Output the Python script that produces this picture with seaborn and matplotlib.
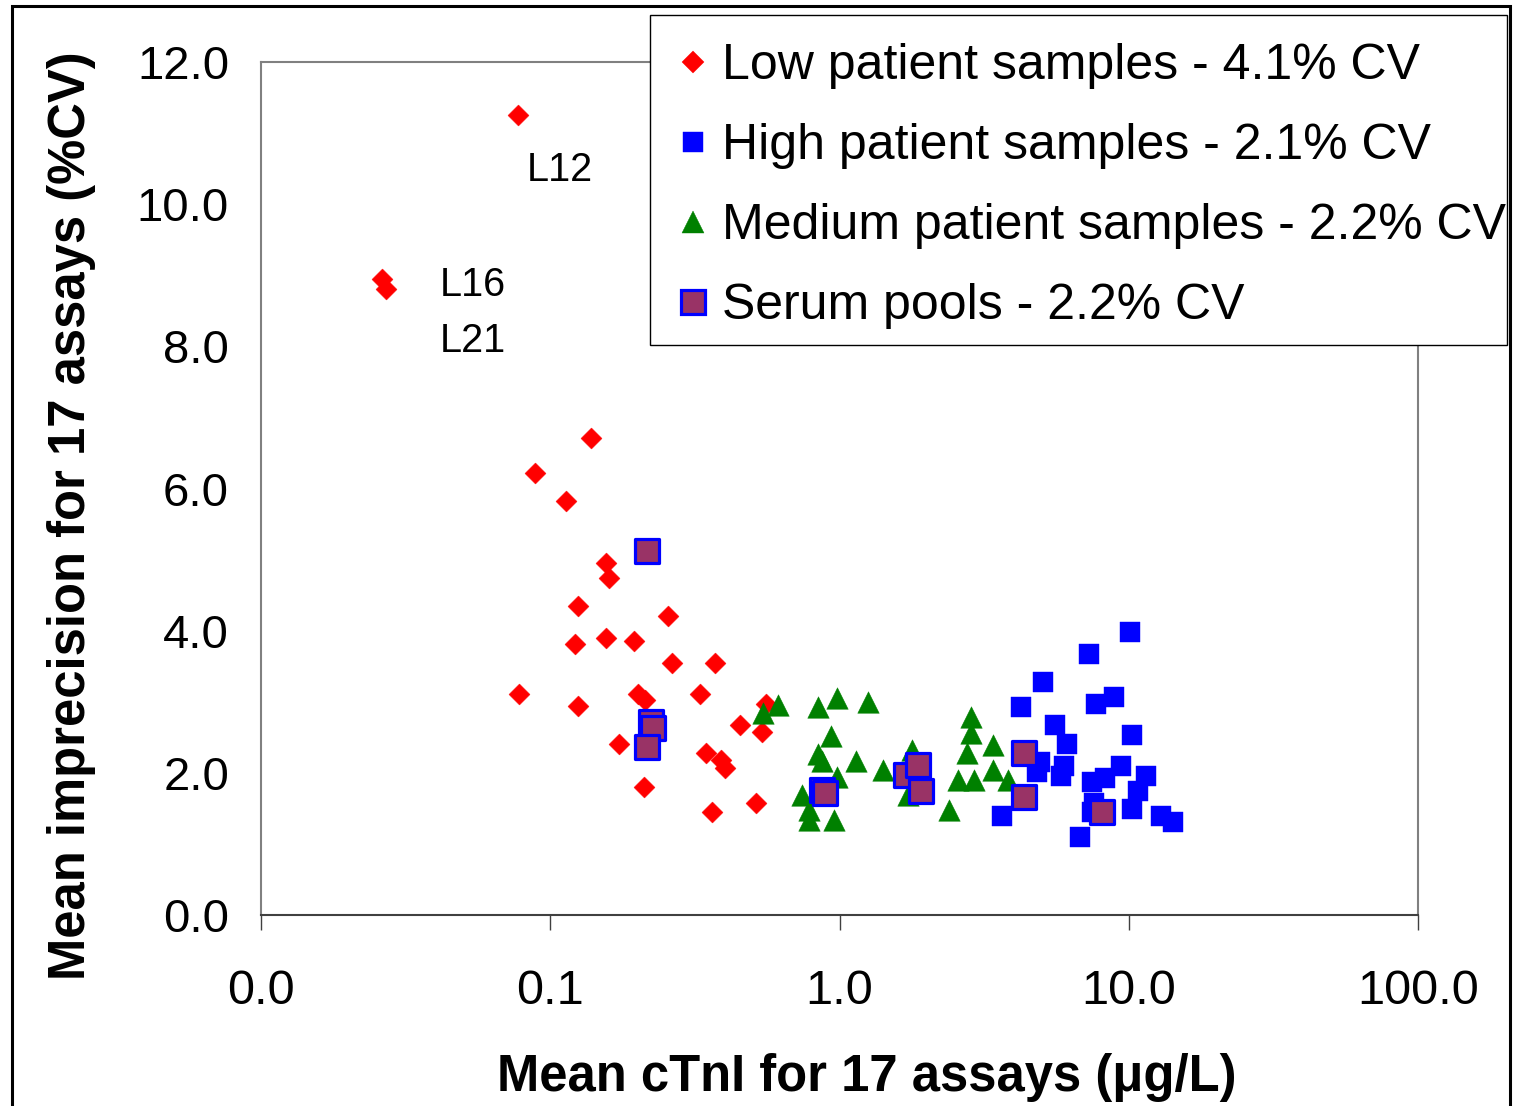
import matplotlib
matplotlib.use("Agg")
import matplotlib.pyplot as plt
import numpy as np
import pandas as pd
import seaborn as sns
from matplotlib.lines import Line2D
from matplotlib.patches import Rectangle
from matplotlib.ticker import NullLocator, FixedLocator, FixedFormatter

# ---------------- data ----------------
low_x = [0.0773, 0.0262, 0.0270, 0.138, 0.0886, 0.1134, 0.156, 0.160, 0.125, 0.255,
         0.122, 0.156, 0.195, 0.264, 0.371, 0.078, 0.201, 0.213, 0.330, 0.125,
         0.557, 0.453, 0.540, 0.173, 0.346, 0.389, 0.402, 0.211, 0.362, 0.514]
low_y = [11.25, 8.95, 8.81, 6.71, 6.22, 5.82, 4.95, 4.74, 4.35, 4.21,
         3.81, 3.90, 3.85, 3.55, 3.55, 3.11, 3.11, 3.02, 3.11, 2.94,
         2.97, 2.67, 2.57, 2.41, 2.28, 2.18, 2.07, 1.80, 1.45, 1.58]

high_x = [10.1, 7.29, 5.05, 4.24, 7.71, 8.89, 5.56, 6.12, 10.3, 4.93,
          4.82, 5.97, 5.83, 9.40, 11.5, 7.46, 8.28, 10.8, 10.3, 3.65,
          7.46, 12.9, 14.2, 6.78, 7.56]
high_y = [3.98, 3.67, 3.28, 2.93, 2.97, 3.07, 2.67, 2.41, 2.53, 2.15,
          2.01, 2.10, 1.96, 2.10, 1.96, 1.87, 1.93, 1.74, 1.49, 1.39,
          1.45, 1.39, 1.31, 1.10, 1.58]

med_x = [0.613, 0.544, 0.843, 0.980, 1.254, 0.935, 0.843, 0.870, 1.14, 0.98,
         0.742, 0.785, 0.785, 0.957, 1.41, 1.78, 1.73, 2.85, 2.85, 3.40,
         2.76, 2.57, 2.92, 3.40, 3.82, 2.39]
med_y = [2.95, 2.84, 2.93, 3.05, 3.00, 2.52, 2.27, 2.17, 2.17, 1.94,
         1.69, 1.48, 1.34, 1.34, 2.04, 2.32, 1.69, 2.79, 2.56, 2.39,
         2.28, 1.90, 1.90, 2.04, 1.90, 1.48]

pool_x = [0.216, 0.223, 0.227, 0.216, 0.870, 0.89, 1.70, 1.87, 1.91, 4.34, 4.34, 8.08]
pool_y = [5.12, 2.72, 2.63, 2.36, 1.76, 1.72, 1.97, 2.11, 1.74, 2.28, 1.66, 1.45]

series_names = ["Low patient samples - 4.1% CV",
                "High patient samples - 2.1% CV",
                "Medium patient samples - 2.2% CV",
                "Serum pools - 2.2% CV"]

x_ticks = [0.01, 0.1, 1, 10, 100]
x_tick_labels = ["0.0", "0.1", "1.0", "10.0", "100.0"]
y_ticks = [0, 2, 4, 6, 8, 10, 12]
y_tick_labels = ["0.0", "2.0", "4.0", "6.0", "8.0", "10.0", "12.0"]

point_labels = ["L12", "L16", "L21"]
point_label_x = [0.083, 0.0416, 0.0416]
point_label_y = [10.48, 8.86, 8.08]

df = pd.concat([
    pd.DataFrame({"x": low_x, "y": low_y, "group": series_names[0]}),
    pd.DataFrame({"x": high_x, "y": high_y, "group": series_names[1]}),
    pd.DataFrame({"x": med_x, "y": med_y, "group": series_names[2]}),
    pd.DataFrame({"x": pool_x, "y": pool_y, "group": series_names[3]}),
], ignore_index=True)

# ---------------- styling ----------------
sns.set_theme(style="white")
plt.rcParams["font.family"] = ["Liberation Sans", "DejaVu Sans"]
plt.rcParams["text.color"] = "black"
plt.rcParams["axes.labelcolor"] = "black"
plt.rcParams["xtick.color"] = "black"
plt.rcParams["ytick.color"] = "black"

W, H = 1518, 1106
fig = plt.figure(figsize=(W / 100, H / 100), dpi=100)
L, R, T, B = 261, 1418, 62, 915
ax = fig.add_axes([L / W, 1 - B / H, (R - L) / W, (B - T) / H])

marker_styles = {
    series_names[0]: dict(marker="D", ms=10.7, face="#FF0000", edge="#FF0000", ew=0.3, z=3),
    series_names[1]: dict(marker="s", ms=15.0, face="#0000FF", edge="#0000FF", ew=0.3, z=4),
    series_names[2]: dict(marker="^", ms=15.5, face="#008000", edge="#008000", ew=0.3, z=5),
    series_names[3]: dict(marker="s", ms=17.6, face="#993366", edge="#0000FF", ew=2.3, z=6),
}
for name in series_names:
    st = marker_styles[name]
    sub = df[df["group"] == name]
    sns.scatterplot(data=sub, x="x", y="y", ax=ax, legend=False, marker=st["marker"],
                    s=st["ms"] ** 2, color=st["face"], edgecolor=st["edge"],
                    linewidth=st["ew"], zorder=st["z"])

ax.set_xscale("log")
ax.set_xlim(0.01, 100)
ax.set_ylim(0, 12)
ax.xaxis.set_major_locator(FixedLocator(x_ticks))
ax.xaxis.set_major_formatter(FixedFormatter(x_tick_labels))
ax.xaxis.set_minor_locator(NullLocator())
ax.yaxis.set_major_locator(FixedLocator(y_ticks))
ax.yaxis.set_major_formatter(FixedFormatter(y_tick_labels))
ax.yaxis.set_minor_locator(NullLocator())

for side in ["top", "right", "left"]:
    ax.spines[side].set_color("#808080")
    ax.spines[side].set_linewidth(1.5)
ax.spines["bottom"].set_color("#404040")
ax.spines["bottom"].set_linewidth(1.5)

ax.tick_params(axis="x", direction="out", length=10.8, width=1.0, color="#404040",
               pad=28, labelsize=35, labelcolor="black", bottom=True)
ax.tick_params(axis="y", length=0, pad=23, labelsize=34, labelcolor="black", left=True)

ax.set_xlabel("Mean cTnI for 17 assays (μg/L)", fontsize=36.5, fontweight="bold", color="black")
ax.set_ylabel("Mean imprecision for 17 assays (%CV)", fontsize=36.5, fontweight="bold", color="black")
ax.xaxis.set_label_coords((867 - L) / (R - L), (B - 1053) / (B - T))
ax.yaxis.set_label_coords((96 - L) / (R - L), (B - 516) / (B - T))

for lab, lx, ly in zip(point_labels, point_label_x, point_label_y):
    ax.text(lx, ly, lab, fontsize=28.5, ha="left", va="center", color="black")

# legend
handles = []
for name in series_names:
    st = marker_styles[name]
    handles.append(Line2D([], [], linestyle="none", marker=st["marker"], markersize=st["ms"],
                          markerfacecolor=st["face"], markeredgecolor=st["edge"],
                          markeredgewidth=st["ew"]))

frame = Rectangle((650 / W, 1 - 345 / H), (1507 - 650) / W, (345 - 15) / H,
                  transform=fig.transFigure, facecolor="white", edgecolor="black",
                  linewidth=1.0, zorder=4)
fig.add_artist(frame)
leg = fig.legend(handles, series_names, loc="upper left",
                 bbox_to_anchor=(650 / W, 1 - 15 / H), bbox_transform=fig.transFigure,
                 fontsize=36, frameon=False, borderpad=0.56, labelspacing=0.68,
                 handlelength=0.6, handletextpad=0.28, borderaxespad=0, labelcolor="black")
leg.set_zorder(5)
for t in leg.get_texts():
    t.set_color("black")
    t.set_clip_path(frame)
    t.set_clip_on(True)

# outer figure border
fig.add_artist(Rectangle((12 / W, -0.02), (1510 - 12) / W, 1 - 6 / H + 0.02,
                         transform=fig.transFigure, fill=False, edgecolor="black",
                         linewidth=2.2, clip_on=False, zorder=6))

fig.savefig("out.png", dpi=100, facecolor="white")
